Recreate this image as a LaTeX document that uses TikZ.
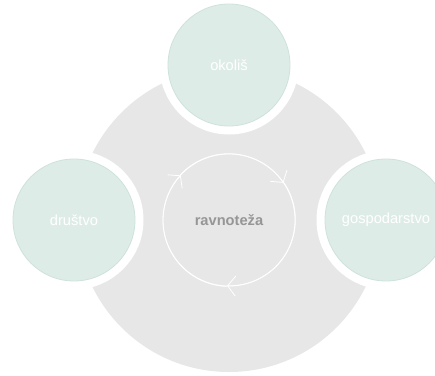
\documentclass[tikz,border=0pt]{standalone}
\usepackage{fontspec}
\setmainfont{Liberation Sans}
\usetikzlibrary{arrows.meta}
\definecolor{HubGrey}{RGB}{231,231,231}
\definecolor{LeafFill}{RGB}{222,236,232}
\definecolor{LeafEdge}{RGB}{206,226,220}
\definecolor{CoreText}{RGB}{150,150,150}

\begin{document}
\begin{tikzpicture}[x=0.75pt,y=-0.75pt,
        hub/.style={circle,fill=HubGrey,minimum size=228pt,inner sep=0pt},
        ring/.style={circle,draw=white,line width=0.6pt,minimum size=99pt,
                     inner sep=0pt,text=CoreText,
                     font=\fontsize{11}{13}\selectfont\bfseries},
        leaf/.style={circle,fill=LeafFill,draw=LeafEdge,line width=0.6pt,
                     minimum size=91.5pt,inner sep=0pt,text=white,
                     font=\fontsize{11}{13}\selectfont,
                     preaction={draw=white,line width=12.75pt}},
        turn/.style={draw=white,line width=0.6pt,
                     -{Straight Barb[length=6pt,width=15pt]}}
      ]
        \path[use as bounding box] (0,0) rectangle (435,375);
        \clip (0,0) rectangle (435,375);
        \node[hub] (hub) at (229,220) {};
        \node[ring] (core) at (229,220) {ravnote\v{z}a};
        \draw[turn] (core.137) arc[start angle=137,end angle=34,radius=49.5pt];
        \draw[turn] (core.34) arc[start angle=34,end angle=-92,radius=49.5pt];
        \draw[turn] (core.-92) arc[start angle=-92,end angle=-223,radius=49.5pt];
        \node[leaf] (env) at (229,65) {okoli\v{s}};
        \node[leaf] (soc) at (74,220) {dru\v{s}tvo};
        \node[leaf] (eco) at (386,220) {gospodarstvo};
      \end{tikzpicture}
\end{document}
